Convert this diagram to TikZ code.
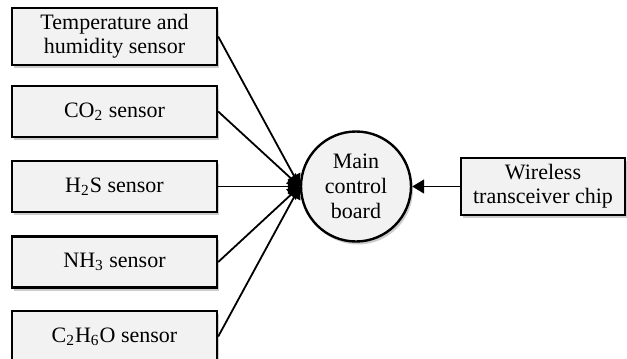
\documentclass[tikz,border=0pt]{standalone}
\usepackage{fontspec}
\setmainfont{Liberation Serif}
\usetikzlibrary{arrows.meta,shadows}

\tikzset{
    sensorbox/.style={rectangle, draw=black, line width=1.2pt, fill={rgb,255:red,242;green,242;blue,242},
        minimum width=102.5pt, minimum height=25.5pt, align=center, font=\fontsize{11}{12}\selectfont,
        drop shadow={shadow xshift=1pt, shadow yshift=-1.5pt, opacity=0.2, fill=black}},
    board/.style={circle, draw=black, line width=1.2pt, fill={rgb,255:red,242;green,242;blue,242},
        minimum size=55pt, inner sep=0pt, align=center, font=\fontsize{11}{12.5}\selectfont,
        drop shadow={shadow xshift=1pt, shadow yshift=-1.5pt, opacity=0.2, fill=black}},
    link/.style={line width=0.9pt, -{Triangle[length=6pt, width=7pt]}}
}

\begin{document}
\begin{tikzpicture}[x=0.5pt, y=-0.5pt]
    \useasboundingbox (0, 0) rectangle (627, 359);

    \node[sensorbox] (temp) at (114.5, 36.5)  {Temperature and\\humidity sensor};
    \node[sensorbox] (co2)  at (114.5, 111.5) {CO\textsubscript{2} sensor};
    \node[sensorbox] (h2s)  at (114.5, 186.5) {H\textsubscript{2}S sensor};
    \node[sensorbox] (nh3)  at (114.5, 262)   {NH\textsubscript{3} sensor};
    \node[sensorbox] (eth)  at (114.5, 336.5) {C\textsubscript{2}H\textsubscript{6}O sensor};

    \node[board]     (mcb)  at (356, 186.5)   {Main\\control\\board};
    \node[sensorbox, minimum width=82pt] (wl) at (543, 186.5) {Wireless\\transceiver chip};

    \draw[link] (temp.east) -- (mcb.west);
    \draw[link] (co2.east)  -- (mcb.west);
    \draw[link] (h2s.east)  -- (mcb.west);
    \draw[link] (nh3.east)  -- (mcb.west);
    \draw[link] (eth.east)  -- (mcb.west);
    \draw[link] (wl.west)   -- (mcb.east);
\end{tikzpicture}
\end{document}
